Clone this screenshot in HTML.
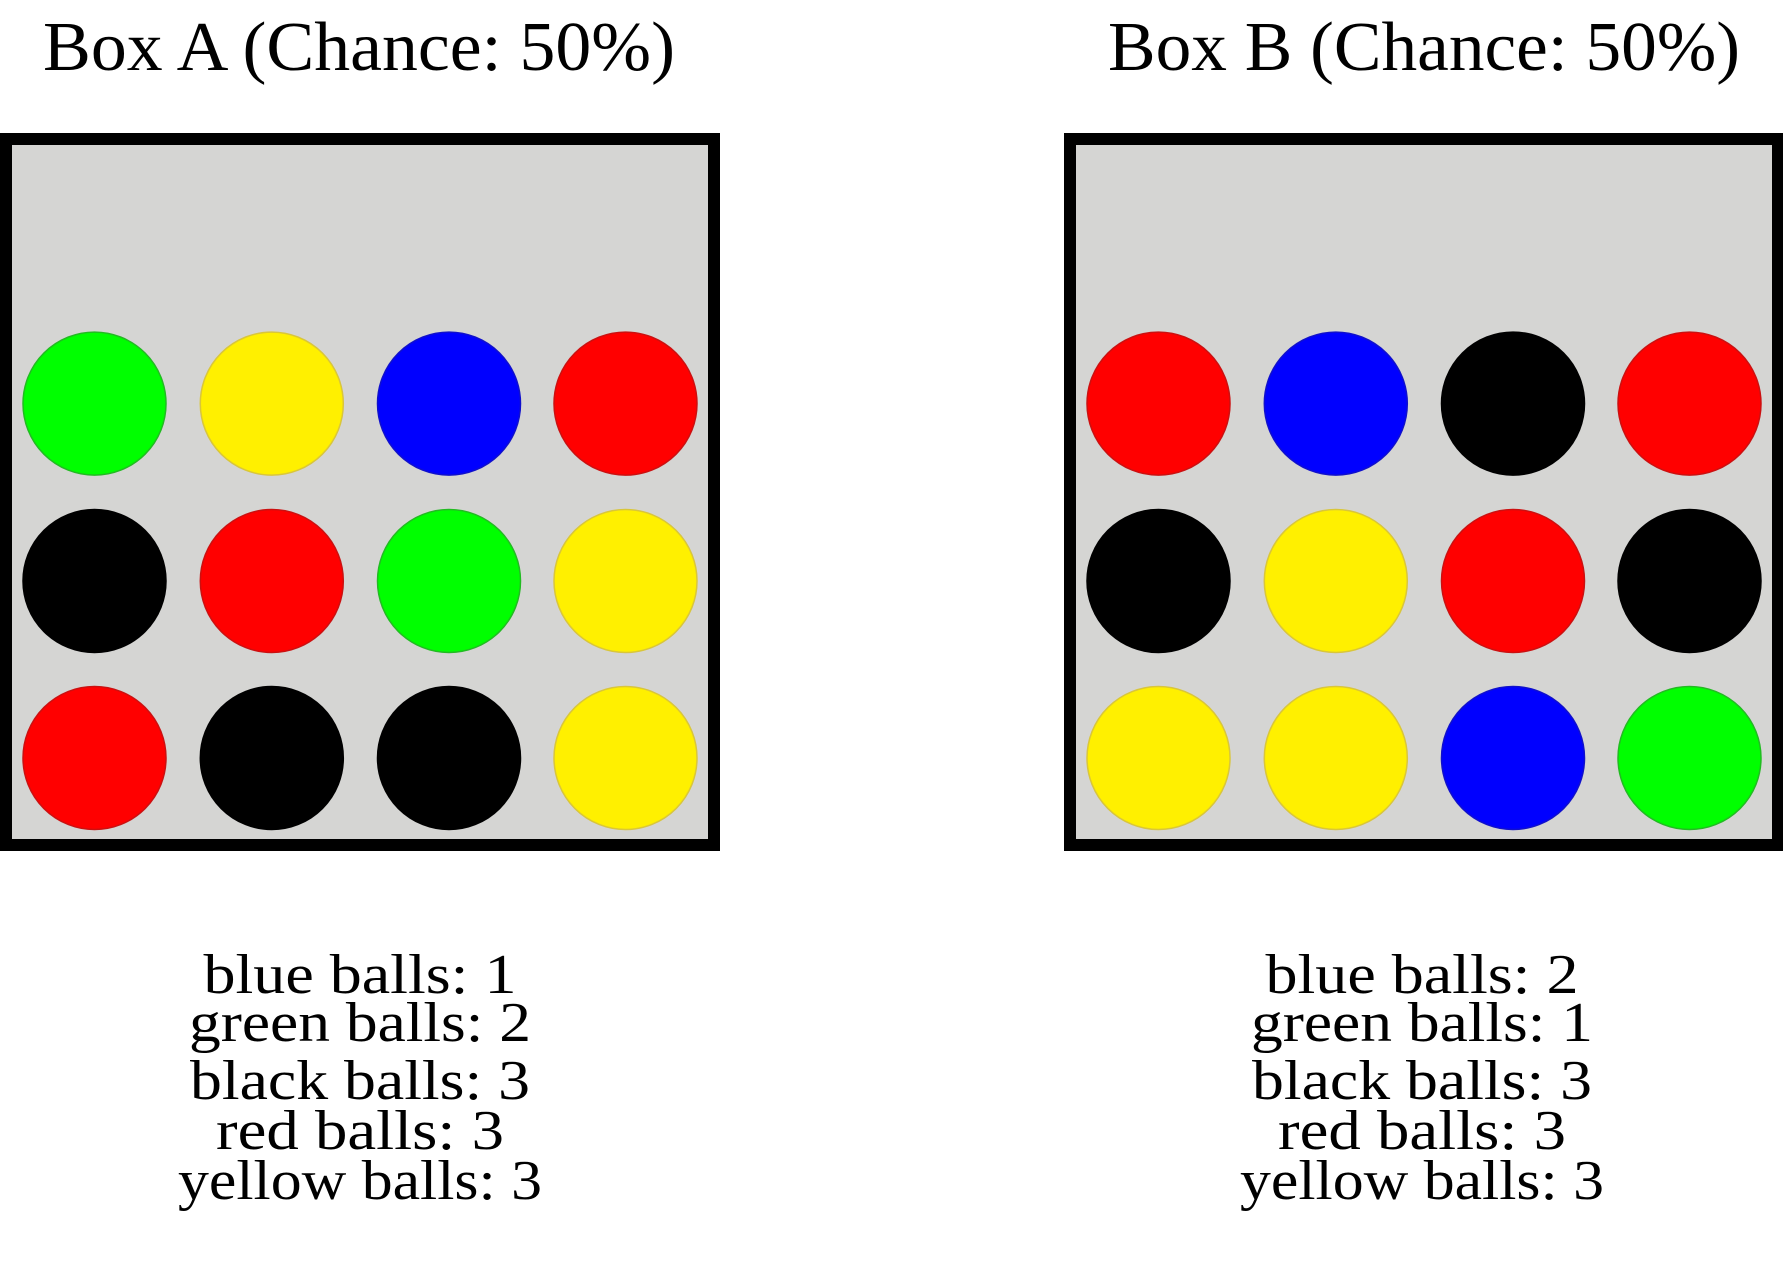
<!DOCTYPE html>
<html><head><meta charset="utf-8"><style>
html,body{margin:0;padding:0;background:#fff;}
svg{display:block;}
text{font-family:"Liberation Serif",serif;fill:#000;}
</style></head><body>
<svg id="chart" width="1783" height="1262" viewBox="0 0 1783 1262" xmlns="http://www.w3.org/2000/svg"></svg>
<script>
const boxTitles = ["Box A (Chance: 50%)", "Box B (Chance: 50%)"];
const boxABalls = [["green","yellow","blue","red"],["black","red","green","yellow"],["red","black","black","yellow"]];
const boxBBalls = [["red","blue","black","red"],["black","yellow","red","black"],["yellow","yellow","blue","green"]];
const countLabels = ["blue","green","black","red","yellow"];
const boxACounts = [1,2,3,3,3];
const boxBCounts = [2,1,3,3,3];

const NS = "http://www.w3.org/2000/svg";
const svg = document.getElementById("chart");
const fills = {green:"#00ff00",yellow:"#fff000",blue:"#0000ff",red:"#ff0000",black:"#000000"};
const strokes = {green:"#22bb22",yellow:"#d9c63a",blue:"#1010cc",red:"#cc1010",black:"#000000"};
const boxLeft = [0, 1064], boxW = 720, boxTop = 133, boxH = 718, bw = 12;
const titleX = [43, 1108], titleW = 632;
const colOff = [94.5, 271.8, 449, 625.5], rowY = [403.6, 581, 758], R = 71.5;
const lineY = [993, 1041, 1099, 1149, 1199];
const lineW = {blue:313, green:342, black:340, red:288, yellow:364};
const centerX = [360, 1422];

function el(tag, attrs, parent){ const e=document.createElementNS(NS,tag); for(const k in attrs) e.setAttribute(k,attrs[k]); (parent||svg).appendChild(e); return e; }

[boxABalls, boxBBalls].forEach((balls, b) => {
  const g = el("g", {});
  
  
  const t = el("text", {x:titleX[b], y:70, "font-size":70, textLength:titleW, lengthAdjust:"spacingAndGlyphs"}, g);
  t.textContent = boxTitles[b];
  
  
  const r = el("rect", {x:boxLeft[b]+bw/2, y:boxTop+bw/2, width:boxW-bw, height:boxH-bw, fill:"#d5d5d3", stroke:"#000", "stroke-width":bw}, g);
  
  
  balls.forEach((row, ri) => row.forEach((c, ci) => {
    const ci2 = el("circle", {cx:boxLeft[b]+colOff[ci], cy:rowY[ri], r:R, fill:fills[c], stroke:strokes[c], "stroke-width":1.5}, g);
    
    
  }));
  const counts = b===0 ? boxACounts : boxBCounts;
  countLabels.forEach((lab, i) => {
    const tx = el("text", {x:centerX[b], y:lineY[i], "font-size":56, "text-anchor":"middle", textLength:lineW[lab], lengthAdjust:"spacingAndGlyphs"}, g);
    tx.textContent = lab + " balls: " + counts[i];
    
    
  });
});
</script>
</body></html>
